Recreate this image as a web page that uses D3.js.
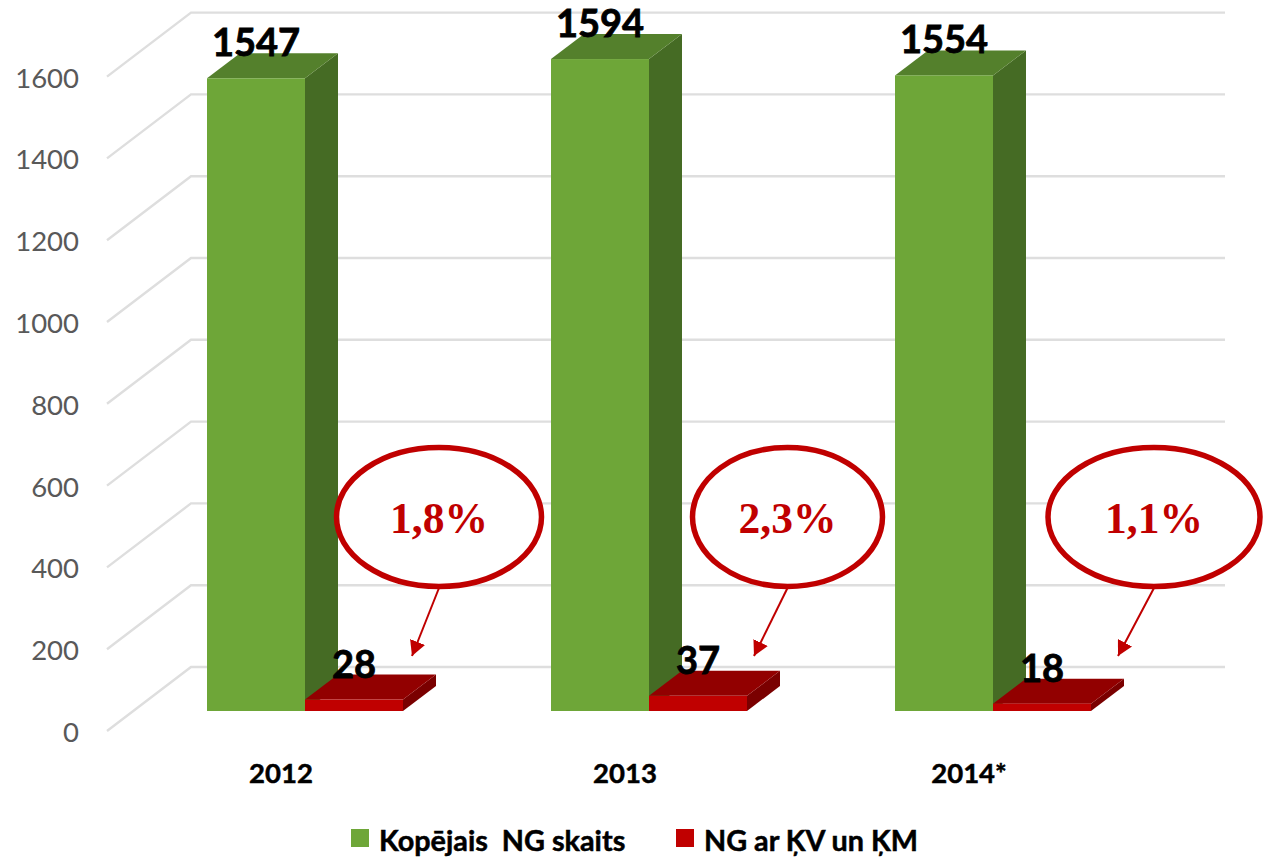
<!DOCTYPE html>
<html>
    <head>
        <meta charset="utf-8">
        <title>NG skaits</title>
        <script src="https://d3js.org/d3.v7.min.js"></script>
        <style>
            html, body { margin: 0; padding: 0; background: #fff; }
            svg { display: block; }
            text { font-family: Lato, "Noto Sans", sans-serif; }
        </style>
    </head>
    <body>
        <script>
            const years = ["2012", "2013", "2014*"];
            const seriesNames = ["Kopējais  NG skaits", "NG ar ĶV un ĶM"];
            const totalCounts = [1547, 1594, 1554];
            const kvCounts = [28, 37, 18];
            const shares = ["1,8%", "2,3%", "1,1%"];
            const ticks = [0, 200, 400, 600, 800, 1000, 1200, 1400, 1600];

            const width = 1270;
            const height = 858;

            // 3d depth of the bars and of the chart floor
            const barDx = 33, barDy = -25;
            const wallDx = 84, wallDy = -64;
            const frontOff = 20;

            const x = d3.scaleBand().domain(years).range([133, 1165]).paddingInner(0).paddingOuter(0);
            const barW = 98;
            const barLeft = 74;
            const y = d3.scaleLinear().domain([0, 1600]).range([711, 56.6]);

            const greens = {front: "#6ea638", top: "#54802c", side: "#456b24"};
            const reds = {front: "#c00000", top: "#920000", side: "#7a0000"};

            const svg = d3.select("body").append("svg")
                .attr("width", width)
                .attr("height", height)
                .attr("viewBox", [0, 0, width, height])
            ;

            svg.append("defs").append("marker")
                .attr("id", "head")
                .attr("markerUnits", "userSpaceOnUse")
                .attr("markerWidth", 16)
                .attr("markerHeight", 16)
                .attr("refX", 15)
                .attr("refY", 8)
                .attr("orient", "auto")
                .append("path")
                .attr("d", "M0,0L15,8L0,16Z")
                .attr("fill", "#c00000")
            ;

            // grid: floor/side wall then back wall
            const g_grid = svg.append("g")
                .attr("fill", "none")
                .attr("stroke", "#dedede")
                .attr("stroke-width", 2.4)
            ;
            g_grid.selectAll("path")
                .data(ticks).join("path")
                .attr("d", d => {
                    const yf = y(d) + frontOff;
                    return `M107,${yf}L${107 + wallDx},${yf + wallDy}L1225,${yf + wallDy}`;
                })
            ;

            // axis labels
            svg.append("g").selectAll("text")
                .data(ticks).join("text")
                .attr("x", 79)
                .attr("y", d => y(d) + frontOff + 11)
                .attr("text-anchor", "end")
                .attr("font-size", 27.5)
                .attr("fill", "#595959")
                .text(d => d)
            ;

            function bar(g, left, v, col) {
                const t = y(v), b = y(0), r = left + barW;
                g.append("path").attr("fill", col.side)
                    .attr("d", `M${r},${t}L${r + barDx},${t + barDy}L${r + barDx},${b + barDy}L${r},${b}Z`);
                g.append("path").attr("fill", col.top)
                    .attr("d", `M${left},${t}L${left + barDx},${t + barDy}L${r + barDx},${t + barDy}L${r},${t}Z`);
                g.append("rect").attr("fill", col.front)
                    .attr("x", left).attr("y", t).attr("width", barW).attr("height", b - t);
            }

            const g_bars = svg.append("g");
            years.forEach((yr, i) => {
                const g = g_bars.append("g");
                bar(g, x(yr) + barLeft, totalCounts[i], greens);
                bar(g, x(yr) + barLeft + barW, kvCounts[i], reds);
            });

            // value labels
            const g_labels = svg.append("g")
                .attr("font-size", 38)
                .attr("font-weight", 700)
                .attr("fill", "#000")
                .attr("stroke", "#000")
                .attr("stroke-width", 0.8)
                .attr("text-anchor", "middle")
            ;
            g_labels.selectAll("text.total")
                .data(totalCounts).join("text")
                .attr("class", "total")
                .attr("x", (d, i) => x(years[i]) + barLeft + barW / 2)
                .attr("y", d => y(d) - 22)
                .text(d => d)
            ;
            g_labels.selectAll("text.kv")
                .data(kvCounts).join("text")
                .attr("class", "kv")
                .attr("x", (d, i) => x(years[i]) + barLeft + barW * 1.5)
                .attr("y", d => y(d) - 22)
                .text(d => d)
            ;

            // category labels
            svg.append("g").selectAll("text")
                .data(years).join("text")
                .attr("x", d => x(d) + 148)
                .attr("y", 783)
                .attr("text-anchor", "middle")
                .attr("font-size", 27.5)
                .attr("font-weight", 700)
                .attr("stroke", "#000")
                .attr("stroke-width", 0.5)
                .text(d => d)
            ;

            // callouts, offsets from the start of each band
            const calloutCx = [306, 310.5, 333];
            const calloutRx = [102.5, 95, 106];
            const tipOff = [279, 277, 297];
            const g_call = svg.append("g");
            years.forEach((yr, i) => {
                const cx = x(yr) + calloutCx[i];
                g_call.append("line")
                    .attr("x1", cx).attr("y1", 588)
                    .attr("x2", x(yr) + tipOff[i]).attr("y2", 656)
                    .attr("stroke", "#c00000").attr("stroke-width", 2)
                    .attr("marker-end", "url(#head)");
                g_call.append("ellipse")
                    .attr("cx", cx).attr("cy", 517)
                    .attr("rx", calloutRx[i]).attr("ry", 69.5)
                    .attr("fill", "#fff")
                    .attr("stroke", "#c00000").attr("stroke-width", 5.5);
                g_call.append("text")
                    .attr("x", cx).attr("y", 533)
                    .attr("text-anchor", "middle")
                    .attr("font-size", 43.5)
                    .attr("font-weight", 700)
                    .style("font-family", '"Liberation Serif", serif')
                    .attr("fill", "#c00000")
                    .text(shares[i]);
            });

            // legend
            const legendX = [351, 676];
            const g_leg = svg.append("g");
            seriesNames.forEach((name, i) => {
                g_leg.append("rect")
                    .attr("x", legendX[i]).attr("y", 829)
                    .attr("width", 18).attr("height", 18)
                    .attr("fill", i == 0 ? greens.front : reds.front);
                g_leg.append("text")
                    .attr("x", legendX[i] + 28).attr("y", 851)
                    .attr("font-size", 28.8)
                    .attr("font-weight", 700)
                    .attr("stroke", "#000")
                    .attr("stroke-width", 0.5)
                    .style("white-space", "pre")
                    .text(name);
            });
        </script>
    </body>
</html>
